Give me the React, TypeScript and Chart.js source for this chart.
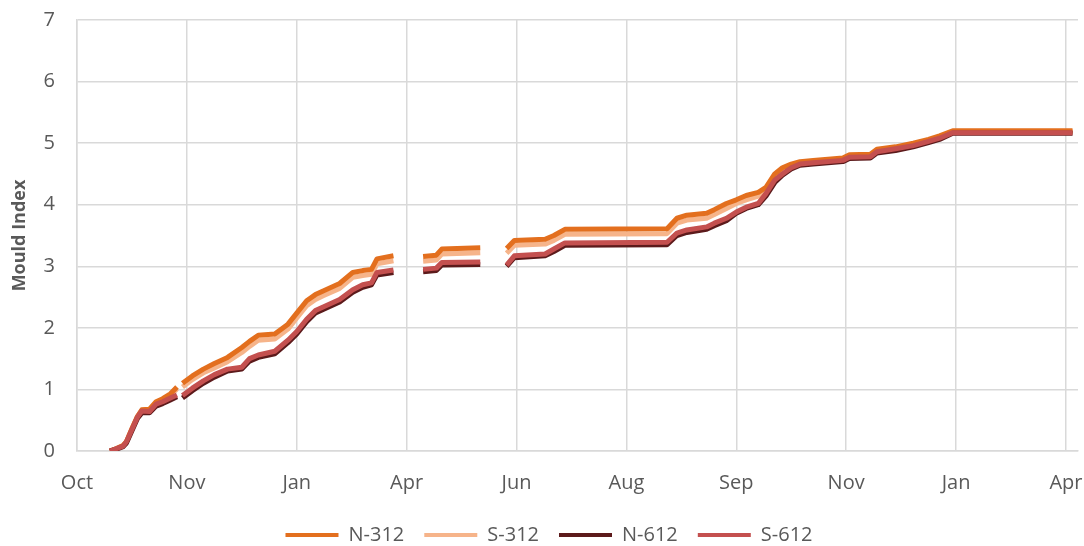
import React, { useEffect, useRef } from "react";
import { Chart, registerables } from "chart.js";

Chart.register(...registerables);

// x positions measured in "major tick" units (0 = Oct ... 9 = Apr)
const tickLabels = ["Oct", "Nov", "Jan", "Apr", "Jun", "Aug", "Sep", "Nov", "Jan", "Apr"];

const xs = [
  0.30, 0.36, 0.42, 0.45, 0.50, 0.55, 0.59, 0.66, 0.72, 0.78, 0.85, 0.91, 0.93,
  0.96, 1.05, 1.15, 1.25, 1.37, 1.50, 1.57, 1.65, 1.80, 1.92, 2.00, 2.09, 2.17, 2.24, 2.39, 2.51, 2.60, 2.68, 2.73, 2.88, 3.00,
  3.15, 3.27, 3.32, 3.67, 3.80,
  3.91, 3.98, 4.26, 4.34, 4.44, 5.37, 5.46, 5.55, 5.73, 5.80, 5.91, 6.00, 6.09, 6.20, 6.27, 6.35, 6.42, 6.50, 6.58, 6.70,
  6.97, 7.03, 7.22, 7.28, 7.45, 7.61, 7.75, 7.85, 7.97, 9.06,
];

const n312 = [
  0, 0.04, 0.09, 0.15, 0.36, 0.56, 0.67, 0.68, 0.80, 0.85, 0.93, 1.04, null,
  1.10, 1.22, 1.33, 1.42, 1.52, 1.68, 1.78, 1.88, 1.90, 2.06, 2.24, 2.44, 2.54, 2.60, 2.72, 2.90, 2.93, 2.95, 3.12, 3.17, null,
  3.16, 3.18, 3.28, 3.30, null,
  3.29, 3.42, 3.44, 3.50, 3.60, 3.61, 3.78, 3.83, 3.86, 3.92, 4.02, 4.08, 4.15, 4.20, 4.28, 4.50, 4.60, 4.66, 4.70, 4.72,
  4.76, 4.81, 4.82, 4.90, 4.94, 5.00, 5.06, 5.12, 5.20, 5.20,
];

const s312 = [
  0, 0.04, 0.09, 0.15, 0.36, 0.56, 0.66, 0.67, 0.79, 0.83, 0.90, 1.01, null,
  1.04, 1.16, 1.27, 1.35, 1.45, 1.60, 1.70, 1.80, 1.82, 1.98, 2.16, 2.36, 2.46, 2.52, 2.64, 2.82, 2.85, 2.87, 3.04, 3.09, null,
  3.08, 3.10, 3.20, 3.22, null,
  3.21, 3.34, 3.36, 3.42, 3.52, 3.53, 3.70, 3.75, 3.78, 3.84, 3.94, 4.02, 4.08, 4.14, 4.22, 4.46, 4.56, 4.63, 4.68, 4.70,
  4.74, 4.79, 4.80, 4.88, 4.92, 4.98, 5.04, 5.10, 5.19, 5.19,
];

const n612 = [
  0, 0.03, 0.07, 0.13, 0.33, 0.53, 0.62, 0.62, 0.73, 0.77, 0.83, 0.88, null,
  0.86, 0.98, 1.10, 1.20, 1.30, 1.33, 1.46, 1.52, 1.58, 1.76, 1.90, 2.10, 2.24, 2.30, 2.42, 2.58, 2.66, 2.70, 2.86, 2.90, null,
  2.91, 2.93, 3.02, 3.03, null,
  3.00, 3.14, 3.17, 3.24, 3.34, 3.35, 3.50, 3.55, 3.60, 3.66, 3.74, 3.86, 3.94, 4.00, 4.14, 4.36, 4.48, 4.58, 4.64, 4.66,
  4.70, 4.75, 4.76, 4.84, 4.88, 4.94, 5.01, 5.06, 5.16, 5.16,
];

const s612 = [
  0, 0.04, 0.08, 0.15, 0.35, 0.55, 0.65, 0.64, 0.76, 0.80, 0.86, 0.91, null,
  0.90, 1.02, 1.14, 1.24, 1.33, 1.36, 1.50, 1.56, 1.62, 1.80, 1.94, 2.14, 2.28, 2.34, 2.46, 2.62, 2.70, 2.73, 2.90, 2.94, null,
  2.95, 2.97, 3.06, 3.07, null,
  3.02, 3.17, 3.20, 3.28, 3.38, 3.39, 3.54, 3.59, 3.64, 3.70, 3.78, 3.88, 3.96, 4.02, 4.18, 4.40, 4.50, 4.60, 4.66, 4.68,
  4.72, 4.77, 4.78, 4.86, 4.91, 4.96, 5.03, 5.08, 5.17, 5.17,
];

const seriesNames = ["N-312", "S-312", "N-612", "S-612"];
const seriesValues = [n312, s312, n612, s612];
const seriesColors = ["#E36F1E", "#F6B48A", "#5C1A1B", "#C4504F"];
const drawOrder = [2, 3, 1, 0];

const FONT = "'Open Sans', 'Noto Sans', sans-serif";
const TEXT = "#595959";
const GRID = "#D9D9D9";

const legendShift = {
  id: "legendShift",
  afterLayout(chart: any) {
    const lg = chart.legend;
    if (lg) {
      lg.left += 10;
      lg.right += 10;
    }
  },
};

export default function App() {
  const ref = useRef<HTMLCanvasElement | null>(null);

  useEffect(() => {
    if (!ref.current) return;
    const datasets = seriesNames.map((name, k) => ({
      label: name,
      data: xs.map((x, i) => ({ x, y: seriesValues[k][i] })),
      borderColor: seriesColors[k],
      backgroundColor: seriesColors[k],
      borderWidth: 5,
      pointRadius: 0,
      tension: 0,
      spanGaps: false,
      order: drawOrder[k],
      borderJoinStyle: "round" as const,
    }));

    const chart = new Chart(ref.current, {
      type: "line",
      data: { datasets },
      plugins: [legendShift],
      options: {
        animation: false,
        responsive: false,
        maintainAspectRatio: false,
        layout: { padding: { left: 0, right: 6, top: 20, bottom: -9 } },
        plugins: {
          tooltip: { enabled: false },
          legend: {
            position: "bottom",
            labels: {
              boxWidth: 53,
              boxHeight: 4,
              padding: 20,
              color: TEXT,
              font: { family: FONT, size: 20 },
              sort: (a: any, b: any) => a.datasetIndex - b.datasetIndex,
              generateLabels: (c: any) =>
                Chart.defaults.plugins.legend.labels
                  .generateLabels(c)
                  .map((l: any) => ({ ...l, lineWidth: 0, fillStyle: seriesColors[l.datasetIndex] })),
            },
          },
        },
        scales: {
          x: {
            type: "linear",
            min: 0,
            max: 9.11,
            afterFit: (s: any) => {
              s.height = 54;
              s.paddingLeft = 0;
              s.paddingRight = 0;
            },
            grid: { color: GRID, lineWidth: 1.5, drawTicks: false },
            border: { color: GRID, width: 1.5 },
            ticks: {
              stepSize: 1,
              includeBounds: false,
              autoSkip: false,
              maxRotation: 0,
              padding: 20,
              color: TEXT,
              font: { family: FONT, size: 20 },
              callback: (v: any) => {
                const i = Math.round(Number(v));
                return Math.abs(Number(v) - i) < 1e-6 ? tickLabels[i] ?? "" : "";
              },
            },
          },
          y: {
            min: 0,
            max: 7,
            afterFit: (s: any) => {
              s.width = 77;
              s.paddingTop = 0;
              s.paddingBottom = 0;
            },
            grid: { color: GRID, lineWidth: 1.5, drawTicks: false },
            border: { color: GRID, width: 1.5 },
            title: {
              display: true,
              text: "Mould Index",
              color: TEXT,
              font: { family: FONT, size: 18, weight: "bold" },
              padding: { top: 9, bottom: 0 },
            },
            ticks: {
              stepSize: 1,
              padding: 22,
              color: TEXT,
              font: { family: FONT, size: 20 },
            },
          },
        },
      },
    });
    return () => chart.destroy();
  }, []);

  return (
    <div style={{ position: "fixed", left: 0, top: 0, width: 1084, height: 546, background: "#fff" }}>
      <canvas ref={ref} width={1084} height={546} style={{ width: 1084, height: 546 }} />
    </div>
  );
}
